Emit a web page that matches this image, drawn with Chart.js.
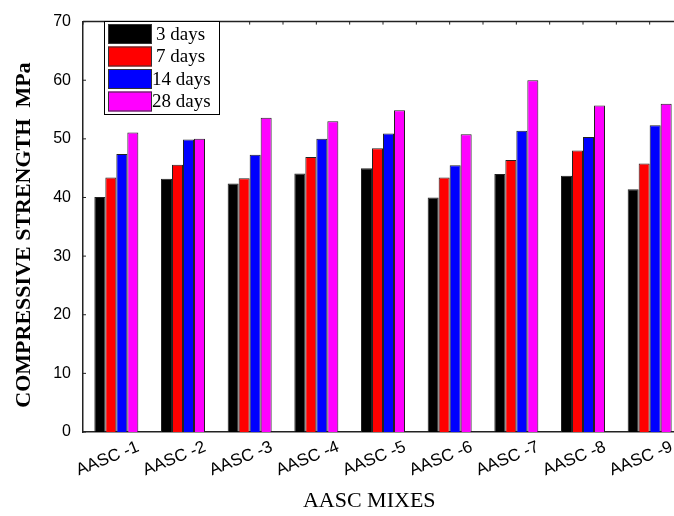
<!DOCTYPE html>
<html>
<head>
<meta charset="utf-8">
<script src="https://cdn.jsdelivr.net/npm/chart.js@4"></script>
<style>
  html, body { margin: 0; padding: 0; background: #fff; overflow: hidden; }
  #wrap { width: 674px; height: 516px; overflow: hidden; }
</style>
</head>
<body>
<div id="wrap"><canvas id="strengthChart" width="690" height="516"></canvas></div>
<script>
const mixes = ['AASC -1', 'AASC -2', 'AASC -3', 'AASC -4', 'AASC -5', 'AASC -6', 'AASC -7', 'AASC -8', 'AASC -9'];

const days3 = [40.1, 43.2, 42.4, 44.1, 45.0, 40.0, 44.0, 43.7, 41.4];
const days7 = [43.4, 45.6, 43.3, 46.9, 48.4, 43.4, 46.4, 48.0, 45.8];
const days14 = [47.4, 49.9, 47.3, 50.0, 50.9, 45.5, 51.4, 50.3, 52.3];
const days28 = [51.1, 50.0, 53.6, 53.0, 54.9, 50.8, 60.0, 55.7, 56.0];

const yTicks = [0, 10, 20, 30, 40, 50, 60, 70];

// frame on top + small inward tick marks
const framePlugin = {
    id: 'frame',
    afterDraw(chart) {
        const ctx = chart.ctx;
        const a = chart.chartArea;
        const x = chart.scales.x;
        const y = chart.scales.y;
        ctx.save();
        ctx.strokeStyle = '#222';
        ctx.lineWidth = 1.5;
        ctx.beginPath();
        ctx.moveTo(a.left, a.top);
        ctx.lineTo(a.right, a.top);
        ctx.stroke();
        ctx.lineWidth = 1;
        ctx.beginPath();
        const half = (x.getPixelForValue(1) - x.getPixelForValue(0)) / 2;
        for (let i = 0; i <= mixes.length * 2; i++) {
            const px = a.left + i * half;
            ctx.moveTo(px, a.top);
            ctx.lineTo(px, a.top + 3);
        }
        yTicks.forEach(v => {
            const py = y.getPixelForValue(v);
            ctx.moveTo(a.left, py);
            ctx.lineTo(a.left + 3, py);
        });
        ctx.stroke();
        ctx.restore();
    }
};

// legend box inside the plot, top left
const boxLegend = {
    id: 'boxLegend',
    afterDraw(chart) {
        const ctx = chart.ctx;
        const left = 104, top = 21, w = 115, h = 93;
        ctx.save();
        ctx.fillStyle = '#fff';
        ctx.fillRect(left, top, w, h);
        ctx.strokeStyle = '#000';
        ctx.lineWidth = 1;
        ctx.strokeRect(left + 0.5, top + 0.5, w, h);
        ctx.font = '19px "Liberation Serif", "Times New Roman", serif';
        ctx.textBaseline = 'middle';
        ctx.textAlign = 'left';
        chart.data.datasets.forEach((ds, i) => {
            const ry = top + 3 + i * 22.5;
            ctx.fillStyle = ds.backgroundColor;
            ctx.fillRect(108, ry, 44, 20);
            ctx.strokeStyle = '#333';
            ctx.strokeRect(108.5, ry + 0.5, 43, 19);
            ctx.fillStyle = '#000';
            ctx.fillText(ds.label, ds.label.length > 6 ? 152 : 156, ry + 11);
        });
        ctx.restore();
    }
};

const data = {
    labels: mixes,
    datasets: [
        { label: '3 days', data: days3, backgroundColor: '#000000' },
        { label: '7 days', data: days7, backgroundColor: '#ff0000' },
        { label: '14 days', data: days14, backgroundColor: '#0000ff' },
        { label: '28 days', data: days28, backgroundColor: '#ff00ff' }
    ]
};
data.datasets.forEach(ds => {
    ds.borderColor = '#222';
    ds.borderWidth = 1;
    ds.barPercentage = 1.0;
    ds.categoryPercentage = 0.66;
});

const config = {
    type: 'bar',
    data: data,
    options: {
        responsive: false,
        animation: false,
        devicePixelRatio: 1,
        layout: { padding: { top: 15, right: 7, left: 0, bottom: 0 } },
        plugins: {
            legend: { display: false },
            tooltip: { enabled: false }
        },
        scales: {
            x: {
                grid: { display: false, drawTicks: false },
                border: { display: true, color: '#222', width: 1.5 },
                ticks: {
                    color: '#000',
                    font: { family: '"Liberation Sans", Arial, sans-serif', size: 17 },
                    minRotation: 22,
                    maxRotation: 22,
                    labelOffset: 22,
                    padding: 5,
                    autoSkip: false
                },
                title: {
                    display: true,
                    // trailing spaces nudge the title left, as in the original
                    text: 'AASC MIXES     ',
                    color: '#000',
                    font: { family: '"Liberation Serif", "Times New Roman", serif', size: 22 },
                    padding: { top: 0, bottom: 2 }
                },
                afterFit(scale) { scale.height = 84; }
            },
            y: {
                min: 0,
                max: 70,
                grid: { display: false, drawTicks: false },
                border: { display: true, color: '#222', width: 1.5 },
                ticks: {
                    stepSize: 10,
                    color: '#000',
                    padding: 12,
                    font: { family: '"Liberation Sans", Arial, sans-serif', size: 16 }
                },
                title: {
                    display: true,
                    text: 'COMPRESSIVE STRENGTH  MPa   ',
                    color: '#000',
                    font: { family: '"Liberation Serif", "Times New Roman", serif', size: 22, weight: 'bold' },
                    padding: { top: 11, bottom: 0 }
                },
                afterFit(scale) { scale.width = 83; }
            }
        }
    },
    plugins: [framePlugin, boxLegend]
};

new Chart(
    document.getElementById('strengthChart'),
    config
);
</script>
</body>
</html>
